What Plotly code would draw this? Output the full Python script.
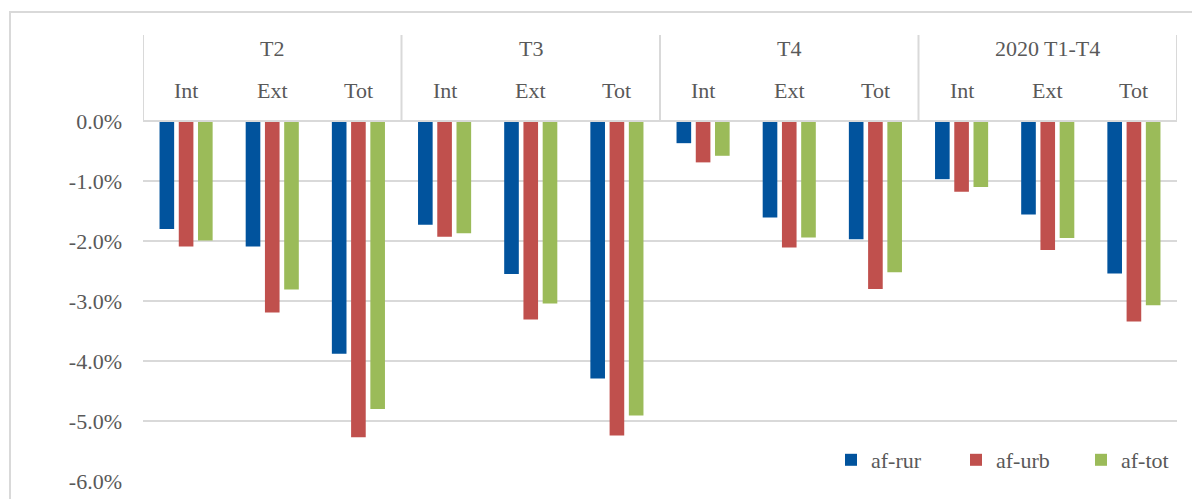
import plotly.graph_objects as go

groups = ["T2", "T3", "T4", "2020 T1-T4"]
subcats = ["Int", "Ext", "Tot"]
categories = [f"{g}|{s}" for g in groups for s in subcats]

af_rur = [-1.80, -2.09, -3.88, -1.73, -2.55, -4.29, -0.37, -1.61, -1.97, -0.97, -1.56, -2.54]
af_urb = [-2.09, -3.19, -5.27, -1.93, -3.31, -5.24, -0.69, -2.11, -2.80, -1.18, -2.15, -3.34]
af_tot = [-1.99, -2.81, -4.80, -1.87, -3.04, -4.91, -0.58, -1.94, -2.52, -1.10, -1.95, -3.07]

series_names = ["af-rur", "af-urb", "af-tot"]
series_values = [af_rur, af_urb, af_tot]
series_colors = ["#01539D", "#C0504D", "#9BBB59"]

tick_vals = [0, -1, -2, -3, -4, -5, -6]
tick_text = ["0.0%", "-1.0%", "-2.0%", "-3.0%", "-4.0%", "-5.0%", "-6.0%"]

FONT = "Liberation Serif"
TXT = "#595959"
GRID = "#D9D9D9"

# page body has an 8px margin; figure coords = screen coords - 8
FW, FH = 1192, 491
PL, PR, PT, PB = 135, 1169, 27, 473  # plot area in figure px
PW, PH = PR - PL, PB - PT

fig = go.Figure()
for name, vals, col in zip(series_names, series_values, series_colors):
    fig.add_trace(go.Bar(x=categories, y=vals, name=name, marker=dict(color=col, line=dict(width=0))))

Y_TOP = 1.433
annotations = []
for gi, g in enumerate(groups):
    annotations.append(dict(x=gi * 3 + 1, y=1.2, xref="x", yref="y", text=g, showarrow=False,
                            font=dict(family=FONT, size=22, color=TXT), yanchor="middle"))
    for si, s in enumerate(subcats):
        annotations.append(dict(x=gi * 3 + si, y=0.5, xref="x", yref="y", text=s, showarrow=False,
                                font=dict(family=FONT, size=22, color=TXT), yanchor="middle"))

shapes = []
for xv in [-0.5, 2.5, 5.5, 8.5, 11.5]:
    shapes.append(dict(type="line", xref="x", yref="y", x0=xv, x1=xv, y0=0, y1=Y_TOP,
                       line=dict(color=GRID, width=2)))
shapes.append(dict(type="line", xref="x", yref="y", x0=-0.5, x1=11.5, y0=0, y1=0,
                   line=dict(color=GRID, width=2)))
# outer chart border
shapes.append(dict(type="rect", xref="paper", yref="paper", x0=(2 - PL) / PW, x1=(1230 - PL) / PW,
                   y0=(PB - 520) / PH, y1=(PB - 4) / PH, line=dict(color=GRID, width=2), layer="below"))

fig.update_layout(
    width=FW, height=FH,
    margin=dict(l=PL, r=FW - PR, t=PT, b=FH - PB, autoexpand=False),
    paper_bgcolor="white", plot_bgcolor="white",
    barmode="group", bargap=0.33, bargroupgap=0.24,
    font=dict(family=FONT, size=22, color=TXT),
    showlegend=True,
    legend=dict(orientation="h", x=(823 - PL) / PW, y=(PB - 452) / PH, xanchor="left", yanchor="middle",
                font=dict(family=FONT, size=22, color=TXT), bgcolor="rgba(0,0,0,0)",
                entrywidth=80, entrywidthmode="pixels", traceorder="normal"),
    annotations=annotations,
    shapes=shapes,
    xaxis=dict(range=[-0.5, 11.5], showticklabels=False, showgrid=False, zeroline=False, showline=False,
               ticks="", automargin=False),
    yaxis=dict(range=[-6, Y_TOP], tickvals=tick_vals, ticktext=tick_text, showgrid=True, gridcolor=GRID,
               gridwidth=2, zeroline=False, showline=False, ticks="", ticklabelstandoff=20, automargin=False,
               tickfont=dict(family=FONT, size=22, color=TXT)),
)

fig.write_html("out.html")
